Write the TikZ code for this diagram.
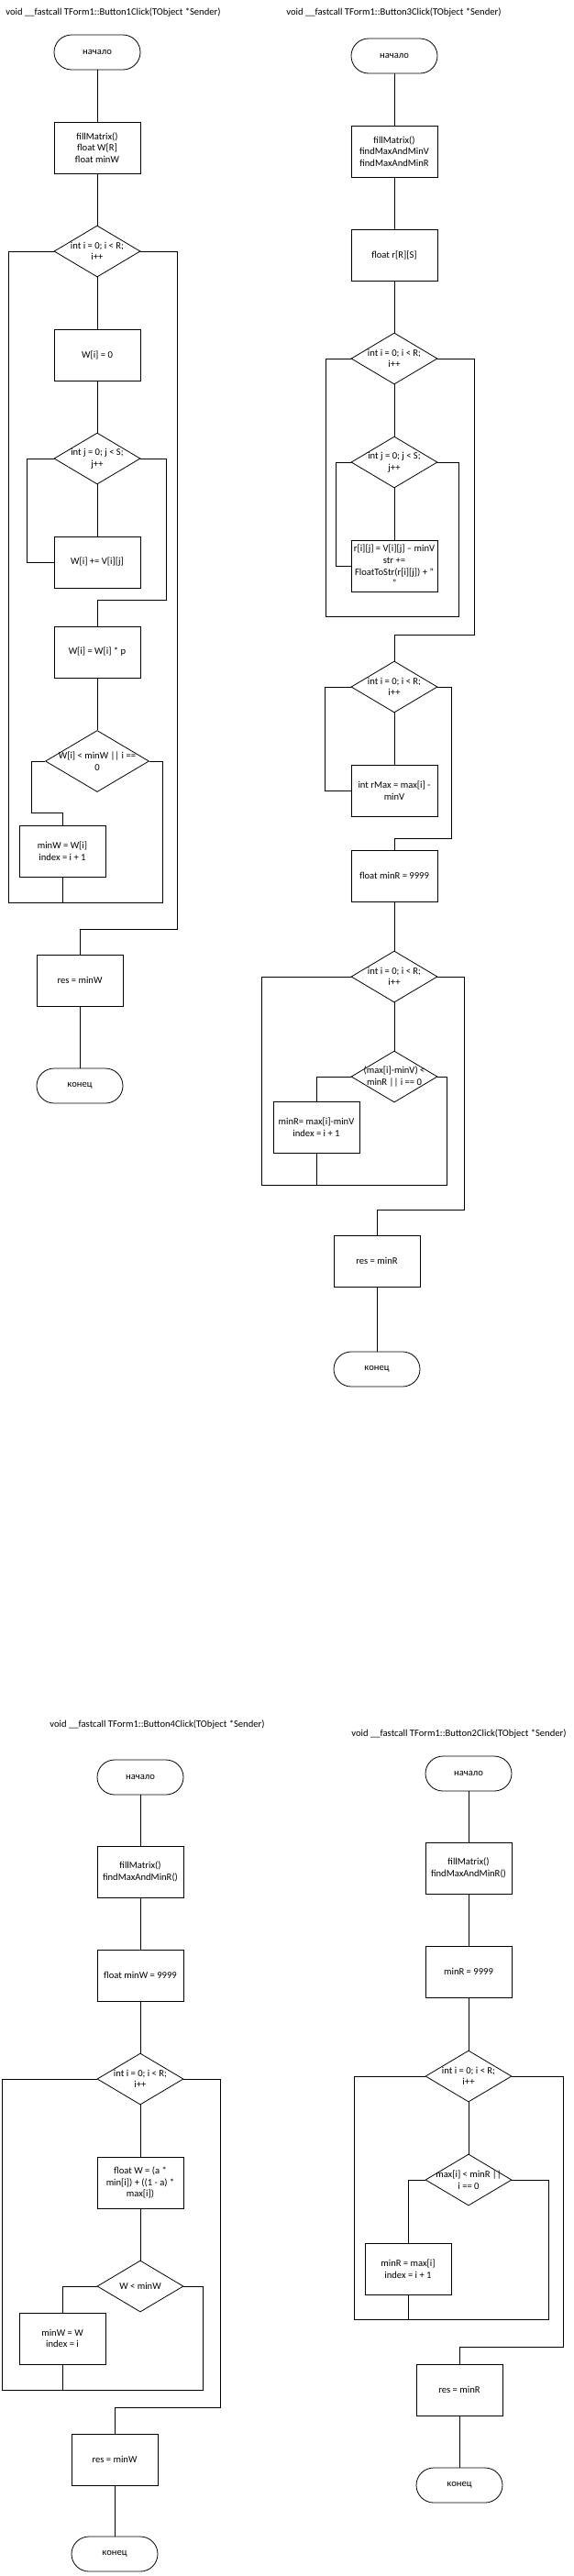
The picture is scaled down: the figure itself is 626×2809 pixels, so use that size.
\documentclass[tikz,border=0pt]{standalone}
\usepackage{fontspec}
\setmainfont{Carlito}
\usetikzlibrary{shapes.geometric}
\begin{document}
\begin{tikzpicture}[x=1pt,y=-1pt,line width=0.8pt,
    font=\fontsize{10.6}{12.6}\selectfont,
    term/.style={draw,rectangle,rounded corners=19pt,minimum width=94pt,minimum height=38pt,inner sep=0pt},
    proc/.style={draw,rectangle,minimum width=94pt,minimum height=56pt,align=center,inner sep=1pt},
    cond/.style={draw,diamond,minimum width=94pt,minimum height=56pt,inner sep=0pt},
    ctext/.style={align=center,inner sep=0pt},
    title/.style={anchor=west,inner sep=0pt}]
        \useasboundingbox (0,0) rectangle (626,2809);
        % Button1Click
        \node[title] (a0) at (6,14) {void \_\_fastcall TForm1::Button1Click(TObject *Sender)};
        \node[term] (a1) at (106,57) {начало};
        \node[proc] (a2) at (106,161) {fillMatrix()\\float W[R]\\float minW};
        \node[cond] (a3) at (106,274) {};
        \node[ctext] (a3t) at (a3) {int i = 0; i < R;\\i++};
        \node[proc] (a4) at (106,387) {W[i] = 0};
        \node[cond] (a5) at (106,500) {};
        \node[ctext] (a5t) at (a5) {int j = 0; j < S;\\j++};
        \node[proc] (a6) at (106,613) {W[i] += V[i][j]};
        \node[proc] (a7) at (106,711) {W[i] = W[i] * p};
        \node[cond,minimum width=113pt,minimum height=67pt] (a8) at (106,830) {};
        \node[ctext] (a8t) at (a8) {W[i] < minW || i ==\\0};
        \node[proc] (a9) at (68,928) {minW = W[i]\\index = i + 1};
        \node[proc] (a10) at (87,1069) {res = minW};
        \node[term] (a11) at (87,1184) {конец};
        \coordinate (a12) at (9,984);
        \coordinate (a13) at (177,984);
        \coordinate (a14) at (193,1013);
        \coordinate (a15) at (181,654);
        \foreach \p/\q in {a1/a2,a2/a3,a3/a4,a4/a5,a5/a6,a7/a8,a10/a11}
            \draw (\p) -- (\q);
        \draw (a5.west) -- ++(-29,0) |- (a6.west);
        \draw (a5.east) -| (a15) -| (a7.north);
        \draw (a8.west) -- ++(-15,0) -- ++(0,56) -| (a9.north);
        \draw (a8.east) -| (a13) -- (a12) |- (a3.west);
        \draw (a9) -- (a9 |- a12);
        \draw (a3.east) -| (a14) -| (a10.north);
        % Button3Click
        \node[title] (b0) at (312,14) {void \_\_fastcall TForm1::Button3Click(TObject *Sender)};
        \node[term] (b1) at (430,61) {начало};
        \node[proc] (b2) at (430,165) {fillMatrix()\\findMaxAndMinV\\findMaxAndMinR};
        \node[proc] (b3) at (430,278) {float r[R][S]};
        \node[cond] (b4) at (430,391) {};
        \node[ctext] (b4t) at (b4) {int i = 0; i < R;\\i++};
        \node[cond] (b5) at (430,504) {};
        \node[ctext] (b5t) at (b5) {int j = 0; j < S;\\j++};
        \node[proc] (b6) at (430,617) {r[i][j] = V[i][j] – minV\\str +=\\FloatToStr(r[i][j]) + "\\"};
        \node[cond] (b7) at (430,749) {};
        \node[ctext] (b7t) at (b7) {int i = 0; i < R;\\i++};
        \node[proc] (b8) at (430,862) {int rMax = max[i] -\\minV};
        \node[proc] (b9) at (430,955) {float minR = 9999};
        \node[cond] (b10) at (430,1065) {};
        \node[ctext] (b10t) at (b10) {int i = 0; i < R;\\i++};
        \node[cond] (b11) at (430,1174) {};
        \node[ctext] (b11t) at (b11) {(max[i]-minV) <\\minR || i == 0};
        \node[proc] (b12) at (345,1229) {minR= max[i]-minV\\index = i + 1};
        \node[proc] (b13) at (411,1375) {res = minR};
        \node[term] (b14) at (411,1493) {конец};
        \coordinate (b15) at (500,672);
        \coordinate (b16) at (355,672);
        \coordinate (b17) at (517,692);
        \coordinate (b18) at (492,914);
        \coordinate (b19) at (487,1292);
        \coordinate (b20) at (285,1292);
        \coordinate (b21) at (506,1319);
        \foreach \p/\q in {b1/b2,b2/b3,b3/b4,b4/b5,b5/b6,b7/b8,b9/b10,b10/b11,b13/b14}
            \draw (\p) -- (\q);
        \draw (b5.west) -- ++(-16,0) |- (b6.west);
        \draw (b5.east) -| (b15) -- (b16) |- (b4.west);
        \draw (b4.east) -| (b17) -| (b7.north);
        \draw (b7.west) -- ++(-28,0) |- (b8.west);
        \draw (b7.east) -| (b18) -| (b9.north);
        \draw (b11.west) -| (b12.north);
        \draw (b11.east) -| (b19) -- (b20) |- (b10.west);
        \draw (b12) -- (b12 |- b19);
        \draw (b10.east) -| (b21) -| (b13.north);
        % Button4Click
        \node[title] (c0) at (54,1881) {void \_\_fastcall TForm1::Button4Click(TObject *Sender)};
        \node[term] (c1) at (153,1938) {начало};
        \node[proc] (c2) at (153,2041) {fillMatrix()\\findMaxAndMinR()};
        \node[proc] (c3) at (153,2154) {float minW = 9999};
        \node[cond] (c4) at (153,2267) {};
        \node[ctext] (c4t) at (c4) {int i = 0; i < R;\\i++};
        \node[proc] (c5) at (153,2380) {float W = (a *\\min[i]) + ((1 - a) *\\max[i])};
        \node[cond] (c6) at (153,2493) {};
        \node[ctext] (c6t) at (c6) {W < minW};
        \node[proc] (c7) at (68,2550) {minW = W\\index = i};
        \node[proc] (c8) at (125,2682) {res = minW};
        \node[term] (c9) at (125,2785) {конец};
        \coordinate (c10) at (221,2606);
        \coordinate (c11) at (2,2606);
        \coordinate (c12) at (240,2625);
        \foreach \p/\q in {c1/c2,c2/c3,c3/c4,c4/c5,c5/c6,c8/c9}
            \draw (\p) -- (\q);
        \draw (c6.west) -| (c7.north);
        \draw (c6.east) -| (c10) -- (c11) |- (c4.west);
        \draw (c7) -- (c7 |- c10);
        \draw (c4.east) -| (c12) -| (c8.north);
        % Button2Click
        \node[title] (d0) at (383,1891) {void \_\_fastcall TForm1::Button2Click(TObject *Sender)};
        \node[term] (d1) at (511,1934) {начало};
        \node[proc] (d2) at (511,2037) {fillMatrix()\\findMaxAndMinR()};
        \node[proc] (d3) at (511,2150) {minR = 9999};
        \node[cond] (d4) at (511,2264) {};
        \node[ctext] (d4t) at (d4) {int i = 0; i < R;\\i++};
        \node[cond] (d5) at (511,2377) {};
        \node[ctext] (d5t) at (d5) {max[i] < minR ||\\i == 0};
        \node[proc] (d6) at (445,2474) {minR = max[i]\\index = i + 1};
        \node[proc] (d7) at (501,2606) {res = minR};
        \node[term] (d8) at (501,2710) {конец};
        \coordinate (d9) at (598,2529);
        \coordinate (d10) at (386,2529);
        \coordinate (d11) at (614,2559);
        \foreach \p/\q in {d1/d2,d2/d3,d3/d4,d4/d5,d7/d8}
            \draw (\p) -- (\q);
        \draw (d5.west) -| (d6.north);
        \draw (d5.east) -| (d9) -- (d10) |- (d4.west);
        \draw (d6) -- (d6 |- d9);
        \draw (d4.east) -| (d11) -| (d7.north);
      \end{tikzpicture}
\end{document}
